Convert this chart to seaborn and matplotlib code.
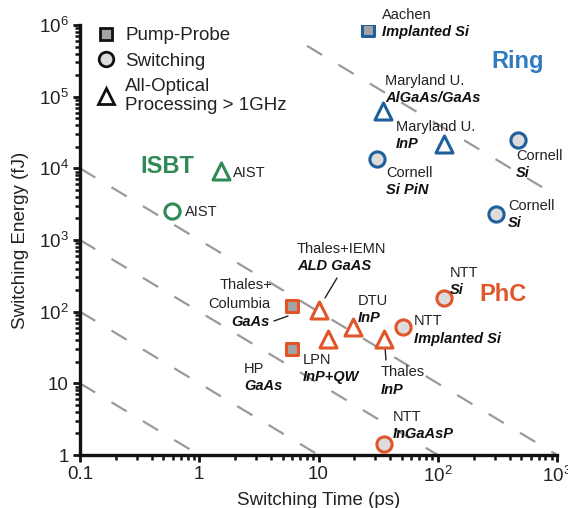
import numpy as np
import pandas as pd
import matplotlib
matplotlib.use("Agg")
import matplotlib.pyplot as plt
from matplotlib.lines import Line2D
import seaborn as sns

# ---------------- data ----------------
labels_top = ["Aachen", "Maryland U.", "Maryland U.", "Cornell", "Cornell", "Cornell",
              "AIST", "AIST",
              "Thales+\nColumbia", "HP", "Thales+IEMN", "LPN", "DTU", "Thales",
              "NTT", "NTT", "NTT"]
materials = ["Implanted Si", "AlGaAs/GaAs", "InP", "Si PiN", "Si", "Si",
             "", "",
             "GaAs", "GaAs", "ALD GaAS", "InP+QW", "InP", "InP",
             "Implanted Si", "Si", "InGaAsP"]
platform = ["Ring", "Ring", "Ring", "Ring", "Ring", "Ring",
            "ISBT", "ISBT",
            "PhC", "PhC", "PhC", "PhC", "PhC", "PhC", "PhC", "PhC", "PhC"]
kind = ["Pump-Probe", "All-Optical", "All-Optical", "Switching", "Switching", "Switching",
        "All-Optical", "Switching",
        "Pump-Probe", "Pump-Probe", "All-Optical", "All-Optical", "All-Optical", "All-Optical",
        "Switching", "Switching", "Switching"]
time_ps = [25.8, 34.5, 112, 30.7, 470, 307,
           1.53, 0.59,
           6.05, 6.05, 10.0, 12.1, 19.3, 35.2, 50.8, 112, 35.2]
energy_fJ = [8.5e5, 6.3e4, 2.2e4, 1.34e4, 2.5e4, 2.27e3,
             9.1e3, 2.5e3,
             121, 30.4, 107, 41.9, 61.7, 41.9, 61.7, 157, 1.43]

x_ticks = [0.1, 1, 10, 100, 1000]
x_ticklabels = ["0.1", "1", "10", r"$\mathregular{10^2}$", r"$\mathregular{10^3}$"]
y_ticks = [1, 10, 100, 1e3, 1e4, 1e5, 1e6]
y_ticklabels = ["1", "10", r"$\mathregular{10^2}$", r"$\mathregular{10^3}$",
                r"$\mathregular{10^4}$", r"$\mathregular{10^5}$", r"$\mathregular{10^6}$"]

# constant energy-time products (fJ*ps) for guide lines
guide_products = [1, 10, 100, 1000]
upper_guide_product = 4.1e6
upper_guide_span = [8.0, 780.0]

df = pd.DataFrame({"label": labels_top, "material": materials, "platform": platform,
                   "kind": kind, "time": time_ps, "energy": energy_fJ})

# ---------------- style ----------------
sns.set_theme(style="white")
plt.rcParams["font.family"] = ["Liberation Sans", "DejaVu Sans"]
plt.rcParams["mathtext.fontset"] = "custom"
plt.rcParams["mathtext.rm"] = "Liberation Sans"
plt.rcParams["mathtext.it"] = "Liberation Sans:italic"
plt.rcParams["mathtext.bf"] = "Liberation Sans:bold"

colors = {"Ring": "#1f5f9c", "ISBT": "#2f8a55", "PhC": "#e0562a"}
title_colors = {"Ring": "#2e7bbf", "ISBT": "#2f8a55", "PhC": "#e0562a"}
markers = {"Pump-Probe": "s", "Switching": "o", "All-Optical": "^"}
sizes = {"Pump-Probe": 80, "Switching": 120, "All-Optical": 150}
fills = {"Pump-Probe": "#a3a3a3", "Switching": "#dcdcdc", "All-Optical": "white"}

fig = plt.figure(figsize=(5.68, 5.08), dpi=100)
W, H = 568, 508
L, R, T, B = 80, 557, 25, 455
ax = fig.add_axes([L / W, 1 - B / H, (R - L) / W, (B - T) / H])
ax.set_xscale("log")
ax.set_yscale("log")
ax.set_xlim(0.1, 1000)
ax.set_ylim(1, 1e6)

# guide lines
tt = np.array([0.1, 1000.0])
for p in guide_products:
    ax.plot(tt, p / tt, color="#9a9a9a", lw=1.6, ls=(0, (8, 8.5)), zorder=1)
tu = np.array(upper_guide_span)
ax.plot(tu, upper_guide_product / tu, color="#9a9a9a", lw=1.6, ls=(0, (8, 8.5)), zorder=1)

# points
for (plat, k), g in df.groupby(["platform", "kind"]):
    fc = fills[k]
    if plat == "ISBT":
        fc = "white"
    sns.scatterplot(data=g, x="time", y="energy", ax=ax, marker=markers[k],
                    s=sizes[k], color=fc, edgecolor=colors[plat], linewidth=2.2,
                    legend=False, zorder=3)

# ---------------- annotations ----------------
def fx(px):
    return (px - L) / (R - L)

def fy(py):
    return (B - py) / (B - T)

def label(px, py, top, mat, ha="left", size=10.5):
    if top:
        ax.text(fx(px), fy(py), top, transform=ax.transAxes, ha=ha, va="center",
                fontsize=size, color="#222222", linespacing=1.05)
    if mat:
        nlines = top.count("\n") + 1 if top else 0
        ax.text(fx(px), fy(py + 17.5 * nlines), mat, transform=ax.transAxes, ha=ha,
                va="center", fontsize=size, color="#111111", fontweight="bold",
                style="italic")

def lbl(i, px, py, ha="left"):
    label(px, py, df.label[i], df.material[i], ha=ha)

lbl(0, 382, 15)
lbl(1, 385, 81)
lbl(2, 396, 127)
lbl(3, 386, 173)
lbl(4, 516, 156)
lbl(5, 508, 206)
label(233, 173, df.label[6], "")
label(185, 212, df.label[7], "")
label(272, 285, "Thales+", "", ha="right")
label(270, 304, "Columbia", df.material[8], ha="right")
lbl(9, 244, 369)
lbl(10, 297, 249)
lbl(11, 303, 360)
lbl(12, 358, 301)
lbl(13, 381, 372)
lbl(14, 414, 321)
lbl(15, 450, 273)
lbl(16, 393, 417)

# leader lines
for (x0, y0, x1, y1) in [(274, 321, 288, 316), (337, 278, 325, 298), (385, 347, 386, 360)]:
    ax.plot([fx(x0), fx(x1)], [fy(y0), fy(y1)], transform=ax.transAxes,
            color="#222222", lw=1.0, zorder=2)

ax.text(fx(518), fy(62), "Ring", transform=ax.transAxes, ha="center", va="center",
        fontsize=17, fontweight="bold", color=title_colors["Ring"])
ax.text(fx(167), fy(167), "ISBT", transform=ax.transAxes, ha="center", va="center",
        fontsize=17, fontweight="bold", color=title_colors["ISBT"])
ax.text(fx(503), fy(295), "PhC", transform=ax.transAxes, ha="center", va="center",
        fontsize=17, fontweight="bold", color=title_colors["PhC"])

# legend
handles = [
    Line2D([], [], ls="none", marker="s", markersize=8.5, markerfacecolor="#a3a3a3",
           markeredgecolor="#111111", markeredgewidth=2),
    Line2D([], [], ls="none", marker="o", markersize=10.5, markerfacecolor="#dcdcdc",
           markeredgecolor="#111111", markeredgewidth=2),
    Line2D([], [], ls="none", marker="^", markersize=12, markerfacecolor="white",
           markeredgecolor="#111111", markeredgewidth=2),
]
leg_labels = ["Pump-Probe", "Switching", "All-Optical\nProcessing > 1GHz"]
leg = ax.legend(handles, leg_labels, loc="upper left", bbox_to_anchor=(0.02, 1.012),
                frameon=False, fontsize=13.5, handlelength=1.0, handletextpad=0.5,
                labelspacing=0.45, borderaxespad=0.0)
for t in leg.get_texts():
    t.set_color("#222222")
    t.set_linespacing(1.15)

# axes styling
ax.set_xticks(x_ticks)
ax.set_xticklabels(x_ticklabels)
ax.set_yticks(y_ticks)
ax.set_yticklabels(y_ticklabels)
ax.xaxis.set_minor_locator(matplotlib.ticker.LogLocator(base=10, subs=np.arange(2, 10)))
ax.yaxis.set_minor_locator(matplotlib.ticker.LogLocator(base=10, subs=np.arange(2, 10)))
ax.xaxis.set_minor_formatter(matplotlib.ticker.NullFormatter())
ax.yaxis.set_minor_formatter(matplotlib.ticker.NullFormatter())
ax.tick_params(axis="both", which="major", direction="out", length=5, width=2,
               labelsize=13.5, color="#111111", labelcolor="#222222", pad=3,
               bottom=True, left=True)
ax.tick_params(axis="both", which="minor", direction="out", length=3.5, width=1.8,
               color="#111111", bottom=True, left=True)
for s in ["top", "right"]:
    ax.spines[s].set_visible(False)
for s in ["left", "bottom"]:
    ax.spines[s].set_linewidth(2.4)
    ax.spines[s].set_color("#111111")

ax.set_xlabel("Switching Time (ps)", fontsize=13.5, color="#222222", labelpad=4)
ax.set_ylabel("Switching Energy (fJ)", fontsize=13.5, color="#222222", labelpad=7)

fig.savefig("out.png", dpi=100)
